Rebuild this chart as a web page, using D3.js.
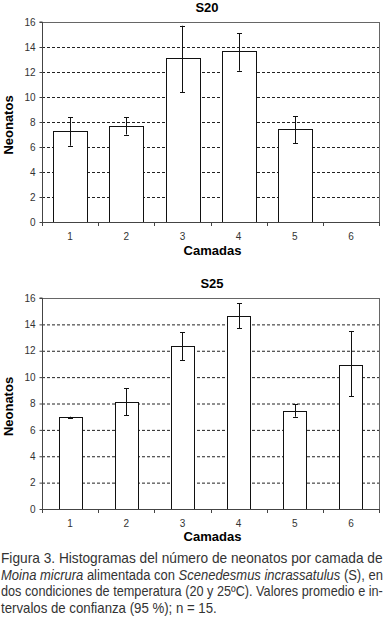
<!DOCTYPE html>
<html><head><meta charset="utf-8">
<script src="https://cdn.jsdelivr.net/npm/d3@7"></script>
<style>
html,body{margin:0;padding:0;background:#fff;}
svg{display:block;}
</style></head>
<body>
<svg id="c" width="384" height="623"></svg>
<script>
const categories = ["1","2","3","4","5","6"];
const yTicks = [0,2,4,6,8,10,12,14,16];
// S20
const s20Mean  = [7.3, 7.7, 13.1, 13.65, 7.45, 0];
const s20Upper = [8.4, 8.4, 15.7, 15.1, 8.45, null];
const s20Lower = [6.1, 7.0, 10.4, 12.1, 6.3, null];
// S25
const s25Mean  = [6.95, 8.15, 12.35, 14.65, 7.45, 10.95];
const s25Upper = [7.0, 9.15, 13.4, 15.6, 7.95, 13.5];
const s25Lower = [6.9, 7.1, 11.3, 13.7, 7.0, 8.55];

const captionLines = [
  [{t:"Figura 3. Histogramas del número de neonatos por camada de"}],
  [{t:"Moina micrura", i:true},{t:" alimentada con "},{t:"Scenedesmus incrassatulus", i:true},{t:" (S), en"}],
  [{t:"dos condiciones de temperatura (20 y 25ºC). Valores promedio e in-"}],
  [{t:"tervalos de confianza (95 %); n = 15."}]
];
const captionWidths = [382, 382, 382, 216];

const svg = d3.select("#c");
const FONT = "Liberation Sans, Arial, sans-serif";

function panel(cfg){
  const g = svg.append("g");
  const x = d3.scaleBand().domain(categories).range([cfg.x0, cfg.x1]).paddingInner(0).paddingOuter(0);
  const y = d3.scaleLinear().domain([0,16]).range([cfg.yb, cfg.yt]);
  const bw = x.bandwidth()*cfg.barFrac;

  g.selectAll(".grid").data(yTicks.filter(d=>d>0 && d<16)).join("line")
    .attr("x1", cfg.x0).attr("x2", cfg.x1)
    .attr("y1", d=>y(d)+0.5).attr("y2", d=>y(d)+0.5)
    .attr("stroke","#222").attr("stroke-width",1).attr("stroke-dasharray","3,2");

  g.append("line").attr("x1",cfg.x0).attr("x2",cfg.x1+0.5).attr("y1",y(16)+0.5).attr("y2",y(16)+0.5)
    .attr("stroke","#666").attr("stroke-width",1);
  g.append("line").attr("x1",cfg.x1+0.5).attr("x2",cfg.x1+0.5).attr("y1",y(16)).attr("y2",y(0))
    .attr("stroke","#666").attr("stroke-width",1);

  const data = cfg.mean.map((m,i)=>({c:categories[i], m, u:cfg.upper[i], l:cfg.lower[i]}));
  g.selectAll(".bar").data(data.filter(d=>d.m>0)).join("rect")
    .attr("x", d=>Math.round(x(d.c)+(x.bandwidth()-bw)/2)+0.5)
    .attr("y", d=>Math.round(y(d.m))+0.5)
    .attr("width", Math.round(bw))
    .attr("height", d=>Math.round(y(0))-Math.round(y(d.m)))
    .attr("fill","#fff").attr("stroke","#111").attr("stroke-width",1);

  const eb = data.filter(d=>d.u!=null);
  const cx = d=>Math.round(x(d.c)+x.bandwidth()/2)+0.5;
  g.selectAll(".ev").data(eb).join("line")
    .attr("x1",cx).attr("x2",cx).attr("y1",d=>y(d.u)).attr("y2",d=>y(d.l))
    .attr("stroke","#111").attr("stroke-width",1);
  g.selectAll(".eu").data(eb).join("line")
    .attr("x1",d=>cx(d)-2.5).attr("x2",d=>cx(d)+2.5).attr("y1",d=>Math.round(y(d.u))+0.5).attr("y2",d=>Math.round(y(d.u))+0.5)
    .attr("stroke","#111").attr("stroke-width",1);
  g.selectAll(".el").data(eb).join("line")
    .attr("x1",d=>cx(d)-2.5).attr("x2",d=>cx(d)+2.5).attr("y1",d=>Math.round(y(d.l))+0.5).attr("y2",d=>Math.round(y(d.l))+0.5)
    .attr("stroke","#111").attr("stroke-width",1);

  const ya = d3.axisLeft(y).tickValues(yTicks).tickSize(3).tickPadding(4).tickFormat(d3.format("d"));
  const yg = g.append("g").attr("transform",`translate(${cfg.x0+0.5},0)`).call(ya);
  yg.select(".domain").attr("stroke","#444").attr("d",`M-3,${y(16)}H0V${y(0)}`);
  yg.selectAll(".tick line").attr("stroke","#444");
  yg.selectAll("text").attr("font-family",FONT).attr("font-size",10).attr("fill","#333");

  g.append("line").attr("x1",cfg.x0).attr("x2",cfg.x1+1).attr("y1",Math.round(y(0))+0.5).attr("y2",Math.round(y(0))+0.5)
    .attr("stroke","#444").attr("stroke-width",1);
  const bounds = categories.map(c=>x(c)).concat([cfg.x1]);
  g.selectAll(".xt").data(bounds).join("line")
    .attr("x1",d=>Math.round(d)+0.5).attr("x2",d=>Math.round(d)+0.5)
    .attr("y1",Math.round(y(0))).attr("y2",Math.round(y(0))+4)
    .attr("stroke","#444");
  g.selectAll(".xl").data(categories).join("text")
    .attr("x",d=>x(d)+x.bandwidth()/2).attr("y",y(0)+18)
    .attr("text-anchor","middle").attr("font-family",FONT).attr("font-size",10).attr("fill","#333")
    .text(d=>d);

  g.append("text").attr("x",cfg.titleX).attr("y",cfg.yt-10).attr("text-anchor","middle")
    .attr("font-family",FONT).attr("font-weight","bold").attr("font-size",13).text(cfg.title);
  g.append("text").attr("x",(cfg.x0+cfg.x1)/2+2).attr("y",y(0)+cfg.xtY).attr("text-anchor","middle")
    .attr("font-family",FONT).attr("font-weight","bold").attr("font-size",13).text("Camadas");
  g.append("text").attr("transform",`translate(13,${(y(0)+y(16))/2+3}) rotate(-90)`)
    .attr("text-anchor","middle").attr("font-family",FONT).attr("font-weight","bold").attr("font-size",13)
    .text("Neonatos");
}

panel({x0:42, x1:379, yt:22, yb:222, barFrac:0.6, mean:s20Mean, upper:s20Upper, lower:s20Lower, title:"S20", titleX:207, xtY:33});
panel({x0:42, x1:379, yt:298, yb:509, barFrac:0.41, mean:s25Mean, upper:s25Upper, lower:s25Lower, title:"S25", titleX:212, xtY:32});

// caption: each line horizontally scaled to its measured target width
const cap = svg.append("g").attr("font-family",FONT).attr("font-size",14).attr("fill","#333");
captionLines.forEach((parts,i)=>{
  const lg = cap.append("g");
  const t = lg.append("text").attr("x",0).attr("y",0);
  parts.forEach(p=>{
    t.append("tspan").attr("font-style",p.i?"italic":null).text(p.t);
  });
  const w = t.node().getComputedTextLength();
  const sx = captionWidths[i] / w;
  lg.attr("transform",`translate(1,${563+i*16.5}) scale(${sx},1)`);
});
</script>
</body></html>
